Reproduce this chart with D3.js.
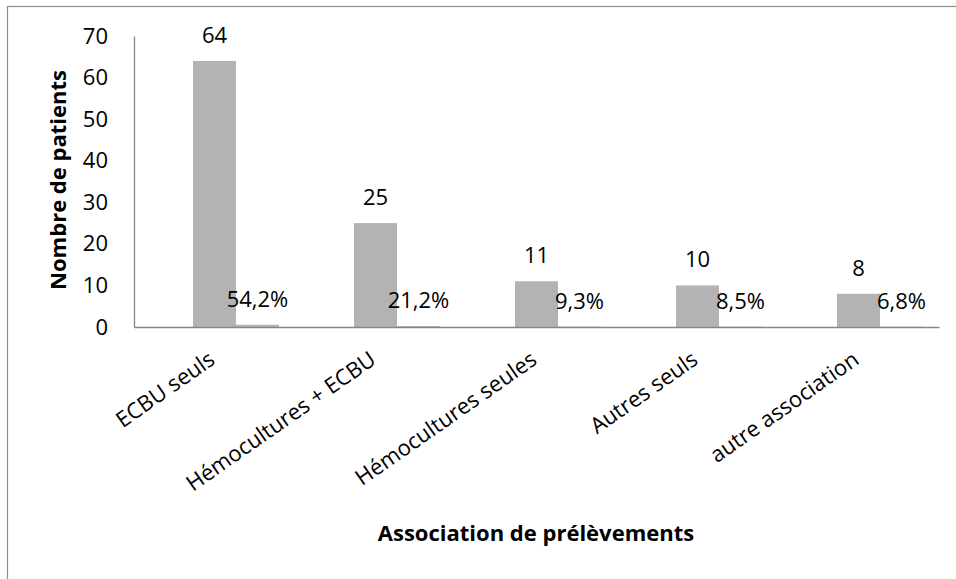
<!DOCTYPE html>
<html>
<head>
<meta charset="utf-8">
<script src="https://cdn.jsdelivr.net/npm/d3@7"></script>
<style>
  html, body { margin: 0; padding: 0; background: #fff; }
  svg { display: block; font-family: "Open Sans", sans-serif; }
</style>
</head>
<body>
<svg id="chart" width="956" height="579"></svg>
<script>
// ---- data ----
const categories = ["ECBU seuls", "Hémocultures + ECBU", "Hémocultures seules", "Autres seuls", "autre association"];
const seriesKeys = ["vide", "nombre", "pourcentage"];
const counts = [64, 25, 11, 10, 8];
const percents = [0.542, 0.212, 0.093, 0.085, 0.068];
const percentLabels = ["54,2%", "21,2%", "9,3%", "8,5%", "6,8%"];
const yTicks = [0, 10, 20, 30, 40, 50, 60, 70];
const yTitle = "Nombre de patients";
const xTitle = "Association de prélèvements";

const svg = d3.select("#chart");

// chart outline
svg.append("rect")
  .attr("x", 7.5).attr("y", 6.5)
  .attr("width", 1000).attr("height", 1000)
  .attr("fill", "none").attr("stroke", "#8c8c8c").attr("stroke-width", 1.2);

const plot = { left: 134, right: 939, top: 36, bottom: 327 };

const x0 = d3.scaleBand().domain(categories).range([plot.left, plot.right]).paddingInner(0).paddingOuter(0);
const x1 = d3.scaleBand().domain(seriesKeys).range([0, x0.bandwidth()]).paddingInner(0).paddingOuter(0.372);
const y = d3.scaleLinear().domain([0, 70]).range([plot.bottom, plot.top]);

const barColor = "#b3b3b3";

// bars: counts
svg.append("g").selectAll("rect")
  .data(categories)
  .join("rect")
  .attr("x", (d) => x0(d) + x1("nombre"))
  .attr("y", (d, i) => y(counts[i]))
  .attr("width", x1.bandwidth())
  .attr("height", (d, i) => y(0) - y(counts[i]))
  .attr("fill", barColor);

// bars: percentages
svg.append("g").selectAll("rect")
  .data(categories)
  .join("rect")
  .attr("x", (d) => x0(d) + x1("pourcentage"))
  .attr("y", (d, i) => y(percents[i]))
  .attr("width", x1.bandwidth())
  .attr("height", (d, i) => y(0) - y(percents[i]))
  .attr("fill", barColor);

// axes lines
const yAxis = d3.axisLeft(y).tickValues(yTicks).tickSize(0).tickPadding(26);
const gy = svg.append("g").attr("transform", `translate(${plot.left},0)`).call(yAxis);
gy.select(".domain").attr("stroke", "#868686").attr("stroke-width", 1.3);
gy.selectAll("text").attr("font-size", 22).attr("fill", "#000").attr("font-family", "Open Sans, sans-serif");

const xAxis = d3.axisBottom(x0).tickSize(0).tickFormat("");
const gx = svg.append("g").attr("transform", `translate(0,${plot.bottom})`).call(xAxis);
gx.select(".domain").attr("stroke", "#868686").attr("stroke-width", 1.3);

// category labels rotated
svg.append("g").selectAll("text")
  .data(categories)
  .join("text")
  .attr("transform", (d) => `translate(${x0(d) + x0.bandwidth() / 2 - 7},${plot.bottom + 23}) rotate(-35)`)
  .attr("text-anchor", "end")
  .attr("dy", "0.71em")
  .attr("font-size", 22)
  .attr("fill", "#000")
  .text((d) => d);

// data labels counts
svg.append("g").selectAll("text")
  .data(categories)
  .join("text")
  .attr("x", (d) => x0(d) + x1("nombre") + x1.bandwidth() / 2)
  .attr("y", (d, i) => y(counts[i]) - 26)
  .attr("dy", "0.36em")
  .attr("text-anchor", "middle")
  .attr("font-size", 22)
  .attr("fill", "#000")
  .text((d, i) => counts[i]);

// data labels percentages
svg.append("g").selectAll("text")
  .data(categories)
  .join("text")
  .attr("x", (d) => x0(d) + x1("pourcentage") + x1.bandwidth() / 2)
  .attr("y", (d, i) => y(percents[i]) - 26)
  .attr("dy", "0.36em")
  .attr("text-anchor", "middle")
  .attr("font-size", 22)
  .attr("fill", "#000")
  .text((d, i) => percentLabels[i]);

// axis titles
svg.append("text")
  .attr("transform", `translate(66,180) rotate(-90)`)
  .attr("text-anchor", "middle")
  .attr("font-size", 22)
  .attr("font-weight", "bold")
  .attr("fill", "#000")
  .text(yTitle);

svg.append("text")
  .attr("x", 536)
  .attr("y", 541)
  .attr("text-anchor", "middle")
  .attr("font-size", 22)
  .attr("font-weight", "bold")
  .attr("fill", "#000")
  .text(xTitle);
</script>
</body>
</html>
